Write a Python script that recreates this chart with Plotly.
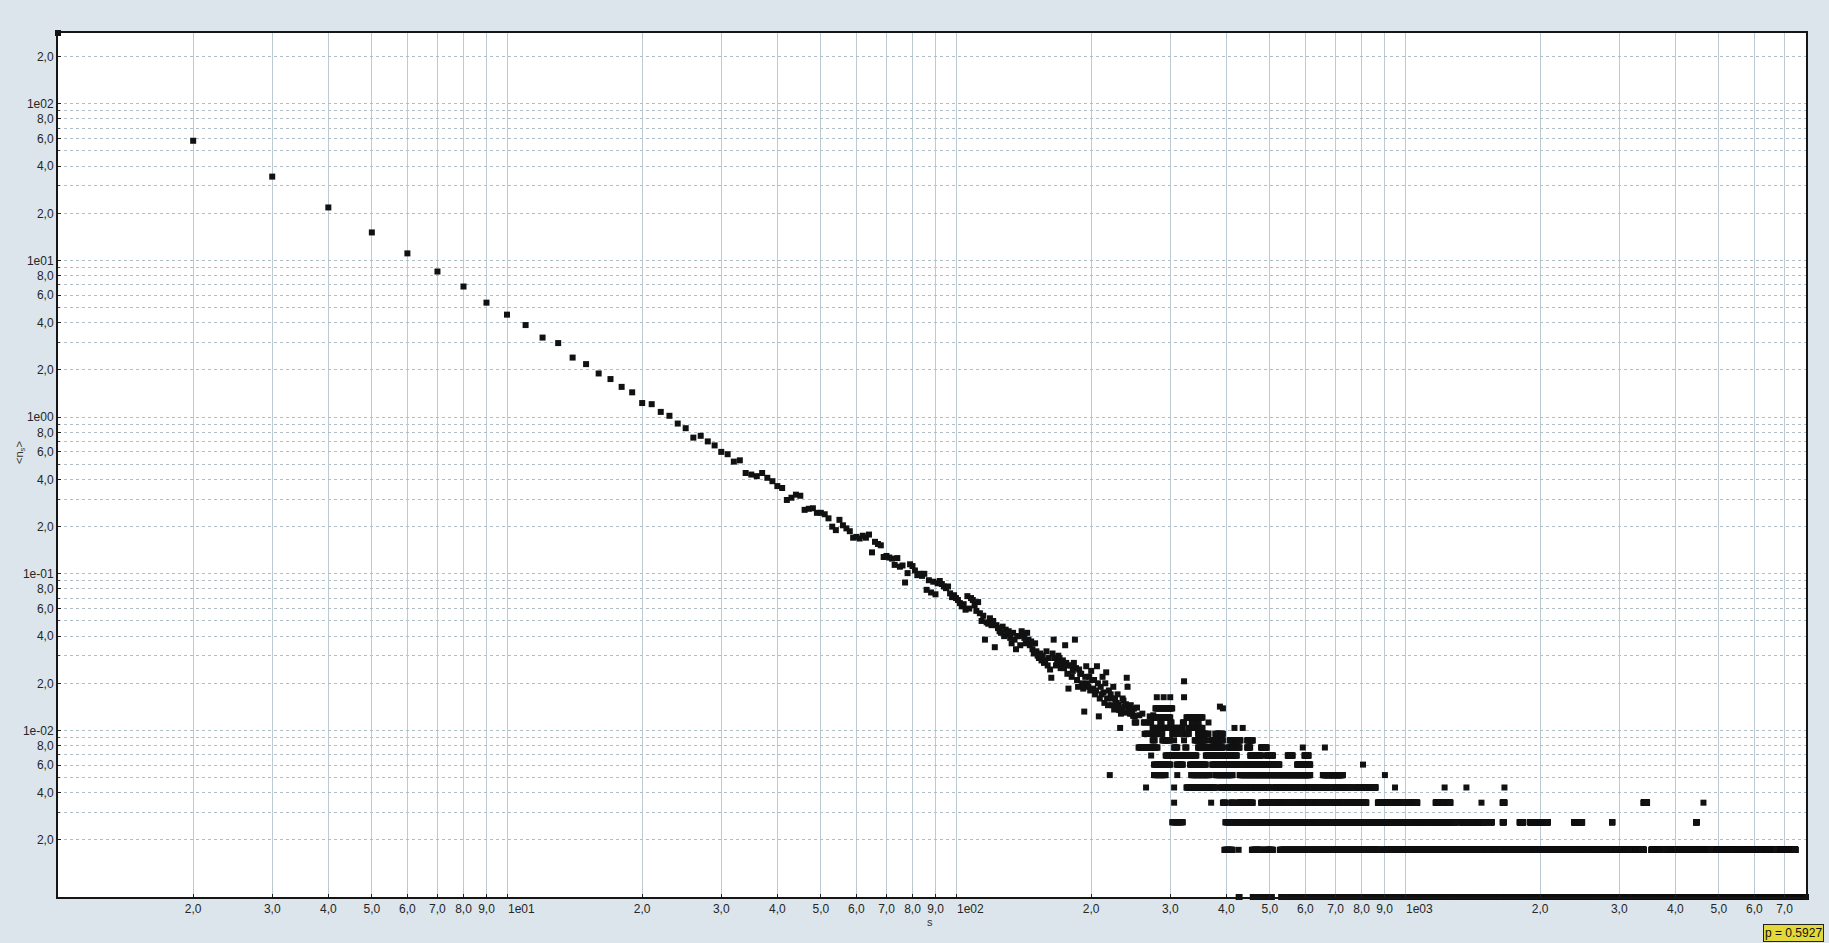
import numpy as np
import plotly.graph_objects as go

# smallest quantum of <n_s> (lowest row of points)
Q = 0.000865

# s = 1 .. 137, one value per cluster size
HEAD_V = [283, 58.1, 34.3, 21.8, 15.1, 11.1, 8.5, 6.82, 5.38, 4.51,
          3.87, 3.22, 2.97, 2.40, 2.18, 1.90, 1.75, 1.56, 1.44, 1.23,
          1.21, 1.08, 1.02, 0.91, 0.85, 0.74, 0.76, 0.70, 0.66, 0.60,
          0.58, 0.52, 0.53, 0.44, 0.43, 0.42, 0.44, 0.41, 0.39, 0.363,
          0.353, 0.296, 0.306, 0.32, 0.315, 0.256, 0.26, 0.262, 0.245,
          0.245, 0.240, 0.226, 0.200, 0.190, 0.221, 0.204, 0.195, 0.187, 0.170,
          0.172, 0.168, 0.175, 0.170, 0.178, 0.137, 0.160, 0.155, 0.152, 0.128,
          0.130, 0.127, 0.125, 0.114, 0.126, 0.111, 0.113, 0.088, 0.101, 0.115,
          0.112, 0.105, 0.098, 0.100, 0.097, 0.100, 0.079, 0.091, 0.076, 0.089,
          0.074, 0.087, 0.090, 0.086, 0.083, 0.081, 0.083, 0.075, 0.071, 0.073,
          0.070, 0.068, 0.065, 0.062, 0.064, 0.059, 0.072, 0.060, 0.070, 0.068,
          0.063, 0.058, 0.066, 0.056, 0.050, 0.054, 0.038, 0.049, 0.048, 0.052,
          0.047, 0.050, 0.034, 0.047, 0.045, 0.043, 0.042, 0.046, 0.040, 0.044,
          0.041, 0.043, 0.039, 0.036, 0.042, 0.038, 0.033, 0.040]
HEAD_S = list(range(1, len(HEAD_V) + 1))

# scattered band between s ~ 138 and ~ 390
MID_S = [138, 139, 140, 141, 142, 143, 144, 145, 146, 147, 148, 149, 150, 151, 152,
         153, 154, 155, 156, 157, 158, 159, 160, 161, 162, 163, 164, 165, 166, 167,
         168, 169, 170, 171, 172, 173, 174, 175, 176, 177, 178, 179, 180, 181, 182,
         183, 184, 185, 186, 187, 188, 189, 190, 191, 192, 193, 194, 195, 196, 197,
         198, 199, 200, 201, 202, 203, 204, 205, 206, 207, 208, 209, 210, 211, 212,
         213, 214, 215, 216, 217, 218, 219, 221, 222, 223, 224, 225, 226, 227, 228,
         229, 230, 231, 233, 234, 235, 236, 237, 238, 239, 240, 241, 242, 243, 244,
         245, 246, 247, 248, 249, 250, 253, 256, 260, 270, 275, 280, 290, 300, 322,
         322, 387]
MID_V = [0.040, 0.035, 0.043, 0.041, 0.039, 0.036, 0.042, 0.038, 0.035, 0.037, 0.033, 0.031, 0.036, 0.032, 0.030,
         0.029, 0.031, 0.028, 0.030, 0.027, 0.028, 0.032, 0.026, 0.029, 0.0245, 0.0217, 0.031, 0.038, 0.029, 0.026,
         0.027, 0.030, 0.029, 0.025, 0.026, 0.028, 0.025, 0.035, 0.027, 0.023, 0.0185, 0.026, 0.026, 0.022, 0.024,
         0.027, 0.038, 0.025, 0.021, 0.019, 0.0245, 0.023, 0.023, 0.020, 0.0185, 0.0132, 0.022, 0.0257, 0.020, 0.019,
         0.022, 0.018, 0.024, 0.021, 0.0185, 0.021, 0.017, 0.018, 0.0257, 0.020, 0.0123, 0.016, 0.019, 0.017, 0.022,
         0.0175, 0.015, 0.020, 0.0235, 0.016, 0.0145, 0.018, 0.017, 0.016, 0.0145, 0.019, 0.0136, 0.016, 0.0148, 0.015,
         0.017, 0.0146, 0.0135, 0.0128, 0.0138, 0.016, 0.0155, 0.0142, 0.013, 0.0147, 0.0217, 0.019, 0.0135, 0.0135, 0.0128,
         0.0145, 0.0128, 0.0132, 0.0124, 0.0138, 0.0123, 0.014, 0.0125, 0.0128, 0.0123, 0.0125, 0.0163, 0.0163, 0.0163, 0.0206,
         0.0163, 0.0142]

# tail: quantized levels k*Q, occupied over runs of s (inclusive)
TAIL_K = [1, 1, 1, 1, 1,
          2, 2, 2, 2, 2, 2, 2, 2, 2, 2, 2,
          3, 3, 3, 3, 3, 3, 3, 3, 3, 3,
          4, 4, 4, 4, 4, 4, 4, 4, 4, 4, 4, 4, 4, 4, 4,
          5, 5, 5, 5, 5, 5, 5, 5, 5, 5, 5, 5,
          6, 6, 6, 6, 6, 6, 6, 6,
          7, 7, 7, 7, 7, 7, 7,
          8, 8, 8, 8, 8, 8, 8,
          9, 9, 9, 9, 9, 9, 9, 9, 9,
          10, 10, 10, 10, 10, 10, 10, 10,
          11, 11, 11, 11, 11,
          12, 12, 12, 12, 12, 12,
          13, 13, 13, 13, 13, 13, 13, 13, 13,
          14, 14,
          16, 16]
TAIL_FROM = [426, 458, 480, 530, 557,
             396, 426, 456, 488, 526, 893, 3540, 3850, 4080, 4930, 6850,
             303, 398, 1335, 1550, 1650, 1800, 1900, 2380, 2890, 4450,
             306, 370, 393, 410, 425, 478, 606, 745, 870, 1020, 1170, 1480, 1650, 3400, 4620,
             265, 306, 326, 388, 512, 600, 700, 780, 950, 1225, 1370, 1665,
             220, 276, 311, 334, 378, 428, 656, 902,
             276, 310, 332, 372, 440, 575, 806,
             272, 293, 360, 452, 492, 548, 597,
             255, 306, 324, 346, 405, 445, 478, 592, 663,
             274, 288, 306, 322, 340, 370, 407, 445,
             263, 303, 322, 346, 378,
             232, 274, 305, 330, 417, 435,
             250, 262, 270, 285, 300, 320, 335, 345, 365,
             274, 326,
             278, 393]
TAIL_TO = [428, 470, 505, 542, 7816,
           413, 426, 480, 508, 880, 3400, 3800, 4040, 4800, 6700, 7400,
           320, 1300, 1510, 1560, 1660, 1834, 2080, 2480, 2895, 4460,
           306, 370, 398, 415, 458, 600, 735, 820, 1000, 1065, 1262, 1480, 1665, 3460, 4620,
           265, 306, 378, 500, 592, 685, 760, 860, 950, 1225, 1370, 1665,
           220, 293, 311, 367, 413, 615, 727, 902,
           300, 320, 360, 435, 525, 615, 806,
           272, 343, 422, 478, 508, 562, 610,
           281, 311, 326, 393, 428, 452, 492, 592, 663,
           277, 300, 306, 322, 360, 393, 430, 458,
           288, 313, 330, 365, 393,
           232, 300, 320, 354, 417, 435,
           252, 264, 272, 287, 302, 322, 337, 347, 365,
           300, 354,
           303, 393]

# x ticks: intermediate labels on the axis; decade labels ("1eNN") set just right of their tick
X_TICK_VALS = [2, 3, 4, 5, 6, 7, 8, 9,
               20, 30, 40, 50, 60, 70, 80, 90,
               200, 300, 400, 500, 600, 700, 800, 900,
               2000, 3000, 4000, 5000, 6000, 7000]
X_TICK_TEXT = ["2,0", "3,0", "4,0", "5,0", "6,0", "7,0", "8,0", "9,0",
               "2,0", "3,0", "4,0", "5,0", "6,0", "7,0", "8,0", "9,0",
               "2,0", "3,0", "4,0", "5,0", "6,0", "7,0", "8,0", "9,0",
               "2,0", "3,0", "4,0", "5,0", "6,0", "7,0"]
X_DECADE_VALS = [10, 100, 1000]
X_DECADE_TEXT = ["1e01", "1e02", "1e03"]

# y: labelled ticks, plus unlabelled grid lines at 3, 5, 7, 9
Y_TICK_VALS = [200, 100, 80, 60, 40, 20,
               10, 8, 6, 4, 2,
               1, 0.8, 0.6, 0.4, 0.2,
               0.1, 0.08, 0.06, 0.04, 0.02,
               0.01, 0.008, 0.006, 0.004, 0.002]
Y_TICK_TEXT = ["2,0", "1e02", "8,0", "6,0", "4,0", "2,0",
               "1e01", "8,0", "6,0", "4,0", "2,0",
               "1e00", "8,0", "6,0", "4,0", "2,0",
               "1e-01", "8,0", "6,0", "4,0", "2,0",
               "1e-02", "8,0", "6,0", "4,0", "2,0"]
Y_MINOR_VALS = [90, 70, 50, 30, 9, 7, 5, 3, 0.9, 0.7, 0.5, 0.3,
                0.09, 0.07, 0.05, 0.03, 0.009, 0.007, 0.005, 0.003]

# expand tail runs into integer cluster sizes
tail_s, tail_v = [], []
for k, a, b in zip(TAIL_K, TAIL_FROM, TAIL_TO):
    s = np.arange(a, b + 1)
    tail_s.append(s)
    tail_v.append(np.full(len(s), k * Q))
all_s = np.concatenate([np.array(HEAD_S), np.array(MID_S)] + tail_s)
all_v = np.concatenate([np.array(HEAD_V), np.array(MID_V)] + tail_v)

FONT = "Liberation Sans Narrow, Arial Narrow, Liberation Sans, sans-serif"
BG = "#dbe5eb"
TICK_FONT = dict(family=FONT, size=12, color="#262626")
XGRID = "#bccbd3"
YGRID = "#afbec6"

fig = go.Figure()
fig.add_trace(go.Scatter(
    x=all_s, y=all_v, mode="markers",
    marker=dict(symbol="square", size=6, color="#111111", line=dict(width=0)),
    cliponaxis=False, showlegend=False, hoverinfo="skip"))

axis_common = dict(
    showline=True, linecolor="#151515", linewidth=2, mirror=True,
    ticks="inside", ticklen=3, tickcolor="#222222", tickwidth=1,
    zeroline=False, showgrid=True, automargin=False, tickangle=0,
    tickfont=TICK_FONT,
)

annotations = []
for v, t in zip(X_DECADE_VALS, X_DECADE_TEXT):
    annotations.append(dict(
        text=t, xref="x", yref="paper", x=np.log10(v), y=-0.0139,
        xanchor="left", yanchor="middle", xshift=-1, showarrow=False, font=TICK_FONT))
annotations.append(dict(
    text="s", xref="paper", yref="paper", x=0.4989, y=-0.029,
    xanchor="center", yanchor="middle", showarrow=False,
    font=dict(family=FONT, size=11, color="#333333")))
annotations.append(dict(
    text="&lt;n<sub>s</sub>&gt;", xref="paper", yref="paper", x=-0.0217, y=0.514,
    xanchor="center", yanchor="middle", textangle=-90, showarrow=False,
    font=dict(family=FONT, size=11, color="#333333")))
annotations.append(dict(
    text="p = 0.5927", xref="paper", yref="paper",
    x=0.9755, y=-0.042, xanchor="left", yanchor="middle",
    showarrow=False, bgcolor="#e3d93a", bordercolor="#222222", borderwidth=1, borderpad=1,
    font=dict(family=FONT, size=12, color="#111111")))

fig.update_layout(
    width=1829, height=943,
    margin=dict(l=58, r=23, t=33, b=46),
    paper_bgcolor=BG,
    plot_bgcolor="#ffffff",
    xaxis=dict(type="log", range=[0, 3.893],
               tickmode="array", tickvals=X_TICK_VALS, ticktext=X_TICK_TEXT,
               gridcolor=XGRID, gridwidth=1,
               minor=dict(tickmode="array", tickvals=X_DECADE_VALS, showgrid=True,
                          gridcolor=XGRID, gridwidth=1,
                          ticks="inside", ticklen=3, tickcolor="#222222"),
               **axis_common),
    yaxis=dict(type="log", range=[-3.063, 2.452],
               tickmode="array", tickvals=Y_TICK_VALS, ticktext=Y_TICK_TEXT,
               gridcolor=YGRID, gridwidth=1, griddash="dot",
               minor=dict(tickmode="array", tickvals=Y_MINOR_VALS, showgrid=True,
                          gridcolor=YGRID, gridwidth=1, griddash="dot",
                          ticks="inside", ticklen=2, tickcolor="#444444"),
               **axis_common),
    annotations=annotations,
)

fig.write_html(
    "out.html",
    config={"displayModeBar": False},
    post_script="document.body.style.margin='0';document.body.style.background='" + BG + "';",
)
